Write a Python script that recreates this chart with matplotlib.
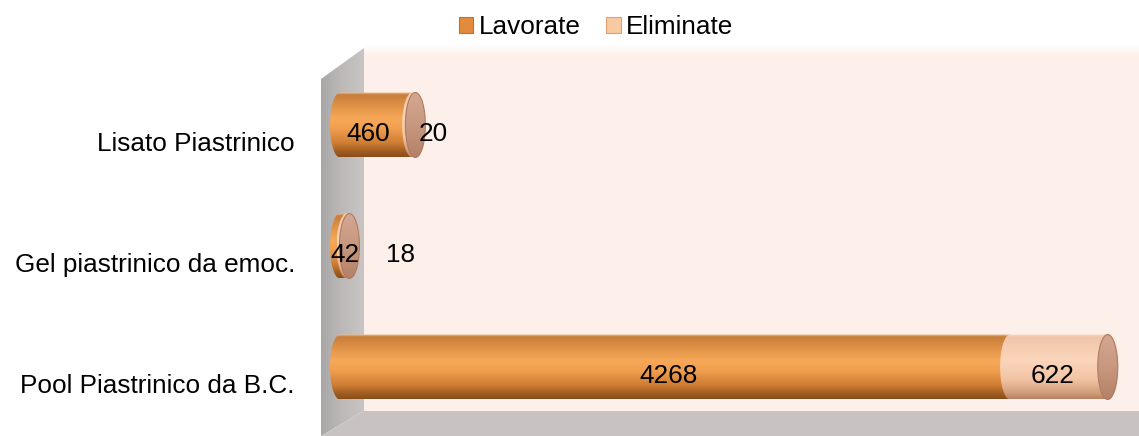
import numpy as np
import matplotlib
matplotlib.use("Agg")
import matplotlib.pyplot as plt
from matplotlib.patches import Polygon, Ellipse, Patch
from matplotlib.colors import LinearSegmentedColormap
from matplotlib.transforms import ScaledTranslation

plt.rcParams['font.family'] = ['Liberation Sans', 'DejaVu Sans']

# --- data -------------------------------------------------------------
categories = ["Pool Piastrinico da B.C.", "Gel piastrinico da emoc.", "Lisato Piastrinico"]
lavorate = [4268, 42, 460]
eliminate = [622, 18, 20]
series_names = ["Lavorate", "Eliminate"]

# --- style -------------------------------------------------------------
W, H = 1139, 436
FS = 18.8
bar_h = 0.537           # bar thickness in category units
cap_px = 20             # apparent width of the cylinder end faces (pixels)
lav_dx = [-7, 2, -8]    # label nudges, pixels
elim_dx = [-6, 52, 19]
label_dy = -9

lav_cmap = LinearSegmentedColormap.from_list("lav", [
    (0.00, "#f0c8a0"), (0.04, "#c67e3a"), (0.18, "#dc8e44"),
    (0.40, "#f6a858"), (0.55, "#f2a050"), (0.78, "#d07e34"),
    (0.93, "#9c5a20"), (1.00, "#8a4c18")])
elim_cmap = LinearSegmentedColormap.from_list("elim", [
    (0.00, "#f6dcc8"), (0.05, "#f0c6a8"), (0.40, "#fbd6bc"),
    (0.70, "#f2c4a4"), (0.92, "#cf9a78"), (1.00, "#b88060")])
cap_cmap = LinearSegmentedColormap.from_list("cap", [
    (0.0, "#d4a892"), (0.5, "#c8987f"), (1.0, "#b48068")])
wall_cmap = LinearSegmentedColormap.from_list("wall", ["#a9a7a7", "#bdb9b9", "#c9c5c5"])

fig = plt.figure(figsize=(W / 100, H / 100), dpi=100)
fig.patch.set_facecolor("white")

# --- 3D box: back wall, side wall, floor (pixel coordinates) -------------
bg = fig.add_axes([0, 0, 1, 1])
bg.set_xlim(0, W)
bg.set_ylim(H, 0)
bg.axis("off")
bg.add_patch(Polygon([(364, 50), (W, 50), (W, 411), (364, 411)],
                     closed=True, facecolor="#fdf0ea", edgecolor="none"))
band = np.linspace(0, 1, 50).reshape(-1, 1)
bg.imshow(band, extent=[364, W, 56, 44], cmap=LinearSegmentedColormap.from_list(
    "top", ["#ffffff", "#fdf0ea"]), aspect="auto", zorder=1)
wall = Polygon([(321, 79), (364, 48), (364, 411), (321, 436)], closed=True,
               facecolor="none", edgecolor="none")
bg.add_patch(wall)
im = bg.imshow(np.linspace(0, 1, 64).reshape(1, -1), extent=[321, 364, 436, 48],
               cmap=wall_cmap, aspect="auto", zorder=2)
im.set_clip_path(wall)
bg.add_patch(Polygon([(364, 411), (1165, 411), (1140, 436), (321, 436)], closed=True,
                     facecolor="#c9c2c2", edgecolor="none", zorder=3))
bg.set_xlim(0, W)
bg.set_ylim(H, 0)

# --- data axes ------------------------------------------------------------
x0_px, x1_px = 320, W
px_per_unit = 0.157
zero_px = 340
xmin = -(zero_px - x0_px) / px_per_unit
xmax = (x1_px - zero_px) / px_per_unit
row_px = 121.0
pool_px = 367.0
ymin = -(H - pool_px) / row_px
ymax = pool_px / row_px

ax = fig.add_axes([x0_px / W, 0, (x1_px - x0_px) / W, 1])
ax.patch.set_alpha(0)
for s in ax.spines.values():
    s.set_visible(False)

a = (cap_px / 2) / px_per_unit   # half-width of end ellipse in data units
b = bar_h / 2
t = np.linspace(0, np.pi, 60)
grad = np.linspace(0, 1, 256).reshape(-1, 1)


def cylinder(x_start, x_end, yc, cmap, z):
    left = np.column_stack([x_start - a * np.sin(t), yc + b * np.cos(t)])
    right = np.column_stack([x_end + a * np.sin(t), yc - b * np.cos(t)])
    poly = Polygon(np.vstack([left, right]), closed=True, facecolor="none",
                   edgecolor="none", zorder=z)
    ax.add_patch(poly)
    img = ax.imshow(grad, extent=[x_start - a, x_end + a, yc - b, yc + b],
                    cmap=cmap, aspect="auto", origin="upper", zorder=z,
                    interpolation="bilinear")
    img.set_clip_path(poly)


def end_face(x_end, yc, z):
    ell = Ellipse((x_end, yc), 2 * a, 2 * b, facecolor="none",
                  edgecolor="#b07a5c", lw=0.8, zorder=z + 0.1)
    ax.add_patch(ell)
    img = ax.imshow(grad, extent=[x_end - a, x_end + a, yc - b, yc + b],
                    cmap=cap_cmap, aspect="auto", origin="upper", zorder=z,
                    interpolation="bilinear")
    img.set_clip_path(ell)


for i, cat in enumerate(categories):
    lv, el = lavorate[i], eliminate[i]
    cylinder(0, lv, i, lav_cmap, 3)
    cylinder(lv, lv + el, i, elim_cmap, 4)
    end_face(lv + el, i, 5)

    ax.annotate(str(lv), (lv / 2, i), xytext=(lav_dx[i] * 0.72, label_dy * 0.72),
                textcoords="offset points", ha="center", va="center",
                fontsize=FS, color="black", zorder=10)
    ax.annotate(str(el), (lv + el / 2, i), xytext=(elim_dx[i] * 0.72, label_dy * 0.72),
                textcoords="offset points", ha="center", va="center",
                fontsize=FS, color="black", zorder=10)

ax.set_xlim(xmin, xmax)
ax.set_ylim(ymin, ymax)
ax.set_xticks([])
ax.set_yticks(range(len(categories)), categories, fontsize=FS)
ax.tick_params(axis="y", length=0, pad=18)
shift = ScaledTranslation(0, -16 / 100, fig.dpi_scale_trans)
for lab in ax.get_yticklabels():
    lab.set_transform(lab.get_transform() + shift)

handles = [Patch(facecolor="#e38b3c", edgecolor="#c07030", lw=0.8),
           Patch(facecolor="#f9c9a2", edgecolor="#e0a070", lw=0.8)]
fig.legend(handles, series_names, loc="center", bbox_to_anchor=(596 / W, 1 - 27 / H),
           ncol=2, frameon=False, fontsize=FS, handlelength=0.55, handleheight=0.55,
           handletextpad=0.2, columnspacing=1.0, borderpad=0)

fig.savefig("out.png", dpi=100)
